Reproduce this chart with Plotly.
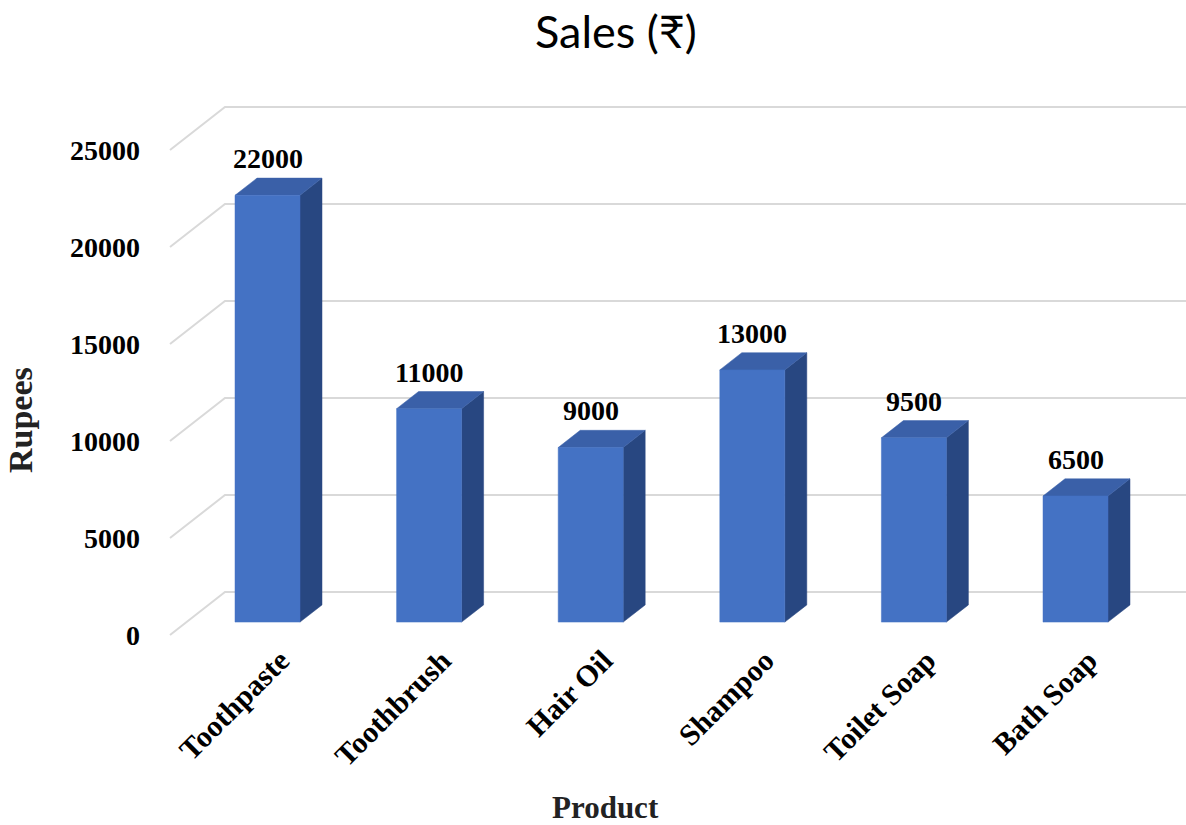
import plotly.graph_objects as go

# ---- data ----
categories = ["Toothpaste", "Toothbrush", "Hair Oil", "Shampoo", "Toilet Soap", "Bath Soap"]
sales = [22000, 11000, 9000, 13000, 9500, 6500]
y_ticks = [0, 5000, 10000, 15000, 20000, 25000]
title_text = "Sales (₹)"
x_title = "Product"
y_title = "Rupees"

# ---- geometry / scale constants (pixels of a 1186x825 canvas) ----
W, H = 1186, 825
PX_PER_CAT = 161.6          # horizontal distance between categories
X0_PX = 251.0               # depth-0 centre of first category
PX_PER_RUPEE = 0.0194       # vertical scale
Y0_PX = 635.0               # value 0 on the front plane
WALL_DX_PX, WALL_DY_PX = 55.0, 43.0   # oblique depth offset of the back wall
WALL_LEFT_PX = 170.0
BAR_HALF_PX = 32.5
D_FRONT, D_BACK = 0.30, 0.70

DXc = WALL_DX_PX / PX_PER_CAT
DYv = WALL_DY_PX / PX_PER_RUPEE
XL = (WALL_LEFT_PX - X0_PX) / PX_PER_CAT
HW = BAR_HALF_PX / PX_PER_CAT
x_range = [(0 - X0_PX) / PX_PER_CAT, (W - X0_PX) / PX_PER_CAT]
y_range = [(Y0_PX - H) / PX_PER_RUPEE, Y0_PX / PX_PER_RUPEE]


def proj(x, v, d):
    return x + d * DXc, v + d * DYv


FRONT = "#4472C4"
TOP = "#3A60A8"
SIDE = "#284781"
GRID = "#D9D9D9"
SERIF = "Liberation Serif, Times New Roman, serif"

fig = go.Figure()

# gridlines: side wall diagonals + back wall horizontals
gx, gy = [], []
for t in y_ticks:
    a = proj(XL, t, 0)
    b = proj(XL, t, 1)
    c = (x_range[1] + 1, b[1])
    gx += [a[0], b[0], c[0], None]
    gy += [a[1], b[1], c[1], None]
fig.add_trace(go.Scatter(x=gx, y=gy, mode="lines", line=dict(color=GRID, width=2),
                         hoverinfo="skip", showlegend=False))

# 3D bars
for i, (cat, v) in enumerate(zip(categories, sales)):
    fl = proj(i - HW, 0, D_FRONT)
    fr = proj(i + HW, 0, D_FRONT)
    flt = proj(i - HW, v, D_FRONT)
    frt = proj(i + HW, v, D_FRONT)
    blt = proj(i - HW, v, D_BACK)
    brt = proj(i + HW, v, D_BACK)
    brb = proj(i + HW, 0, D_BACK)
    faces = [
        ([fr, frt, brt, brb, fr], SIDE),
        ([flt, frt, brt, blt, flt], TOP),
        ([fl, fr, frt, flt, fl], FRONT),
    ]
    for pts, col in faces:
        fig.add_trace(go.Scatter(
            x=[p[0] for p in pts], y=[p[1] for p in pts], mode="lines",
            fill="toself", fillcolor=col, line=dict(color=col, width=0.5),
            name=cat, hovertemplate=f"{cat}: {v}<extra></extra>", showlegend=False))
    # data label
    lx, ly = proj(i, v, D_BACK)
    fig.add_annotation(x=proj(i, v, D_FRONT)[0], y=ly, text=str(v), showarrow=False,
                       xanchor="center", yanchor="bottom", yshift=2,
                       font=dict(family=SERIF, size=28, color="#000000", weight="bold"))

# y tick labels at the front of the side wall
for t in y_ticks:
    ax, ay = proj(XL, t, 0)
    fig.add_annotation(x=ax, y=ay, text=str(t), showarrow=False, xanchor="right",
                       yanchor="middle", xshift=-28,
                       font=dict(family=SERIF, size=28, color="#000000", weight="bold"))

# titles
fig.add_annotation(xref="paper", yref="paper", x=616 / W, y=1 - 31 / H, text=title_text,
                   showarrow=False, xanchor="center", yanchor="middle",
                   font=dict(family="Lato, Noto Sans, sans-serif", size=45, color="#000000"))
fig.add_annotation(xref="paper", yref="paper", x=605 / W, y=1 - 807 / H, text=x_title,
                   showarrow=False, xanchor="center", yanchor="middle",
                   font=dict(family=SERIF, size=31, color="#222222", weight="bold"))
fig.add_annotation(xref="paper", yref="paper", x=21 / W, y=1 - 420 / H, text=y_title,
                   showarrow=False, xanchor="center", yanchor="middle", textangle=-90,
                   font=dict(family=SERIF, size=34, color="#222222", weight="bold"))

label_shift = (D_FRONT * WALL_DX_PX + 13) / PX_PER_CAT
fig.update_layout(
    width=W, height=H, template="none",
    margin=dict(l=0, r=0, t=0, b=0),
    paper_bgcolor="white", plot_bgcolor="white",
    showlegend=False,
    xaxis=dict(range=x_range, showgrid=False, zeroline=False, showline=False,
               tickmode="array", tickvals=[i + label_shift for i in range(len(categories))],
               ticktext=categories, tickangle=-45, ticks="", anchor="free",
               position=1 - 636 / H, automargin=False, fixedrange=True,
               tickfont=dict(family=SERIF, size=30, color="#000000", weight="bold")),
    yaxis=dict(range=y_range, visible=False, fixedrange=True, automargin=False),
)

fig.write_html("out.html", config={"displayModeBar": False},
               post_script="document.body.style.margin='0';document.body.style.overflow='hidden';")
